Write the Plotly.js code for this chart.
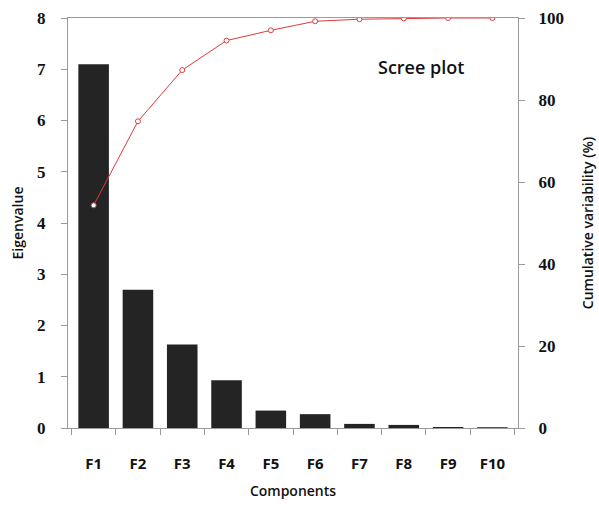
<!DOCTYPE html>
<html>
<head>
<meta charset="utf-8">
<script src="https://cdn.plot.ly/plotly-3.0.1.min.js"></script>
<style>html,body{margin:0;padding:0;background:#fff}#chart{width:599px;height:508px}</style>
</head>
<body>
<div id="chart"></div>
<script>
const components = ["F1","F2","F3","F4","F5","F6","F7","F8","F9","F10"];
const eigenvalues = [7.1, 2.7, 1.63, 0.93, 0.34, 0.27, 0.08, 0.06, 0.02, 0.015];
const cumulative = [54.3, 74.8, 87.3, 94.5, 97.0, 99.2, 99.7, 99.9, 100, 100];
const leftTicks = [0,1,2,3,4,5,6,7,8];
const rightTicks = [0,20,40,60,80,100];

const tickFont = {family: "Liberation Serif, serif", size: 17, color: "#111", weight: 700};
const xTickFont = {family: "Open Sans, sans-serif", size: 15, color: "#111", weight: 700};
const titleFont = {family: "Open Sans, sans-serif", size: 14, color: "#111", weight: 600};

const traces = [
  {
    type: "bar", x: components, y: eigenvalues,
    marker: {color: "#242424"}, yaxis: "y", hoverinfo: "x+y"
  },
  {
    type: "scatter", mode: "lines+markers", x: components, y: cumulative, yaxis: "y2",
    line: {color: "#e03a3a", width: 1},
    marker: {symbol: "circle", size: 5, color: "#ffffff", line: {color: "#e03a3a", width: 1}}
  }
];

const layout = {
  width: 599, height: 508,
  margin: {l: 68, r: 81, t: 18, b: 80},
  paper_bgcolor: "#fff", plot_bgcolor: "#fff",
  showlegend: false,
  bargap: 0.31,
  xaxis: {
    showline: true, linecolor: "#9a9a9a", linewidth: 1, mirror: true,
    ticks: "outside", ticklen: 6, tickcolor: "#9a9a9a", tickson: "boundaries",
    tickfont: xTickFont, ticklabelstandoff: 22,
    showgrid: false, zeroline: false,
    title: {text: "Components", font: titleFont, standoff: 14}
  },
  yaxis: {
    range: [0, 8], tickvals: leftTicks, ticktext: leftTicks.map(String),
    showline: true, linecolor: "#9a9a9a", linewidth: 1,
    ticks: "outside", ticklen: 6, tickcolor: "#9a9a9a",
    tickfont: tickFont, ticklabelstandoff: 12,
    showgrid: false, zeroline: false,
    title: {text: "Eigenvalue", font: titleFont, standoff: 10}
  },
  yaxis2: {
    overlaying: "y", side: "right",
    range: [0, 100], tickvals: rightTicks, ticktext: rightTicks.map(String),
    showline: true, linecolor: "#9a9a9a", linewidth: 1,
    ticks: "outside", ticklen: 6, tickcolor: "#9a9a9a",
    tickfont: tickFont, ticklabelstandoff: 10,
    showgrid: false, zeroline: false,
    title: {text: "Cumulative variability (%)", font: titleFont, standoff: 20}
  },
  annotations: [{
    text: "Scree plot", xref: "paper", yref: "paper", x: 0.785, y: 0.88,
    xanchor: "center", yanchor: "middle", showarrow: false,
    font: {family: "Open Sans, sans-serif", size: 18, color: "#111", weight: 600}
  }]
};

Plotly.newPlot("chart", traces, layout, {displayModeBar: false, staticPlot: true});
</script>
</body>
</html>
